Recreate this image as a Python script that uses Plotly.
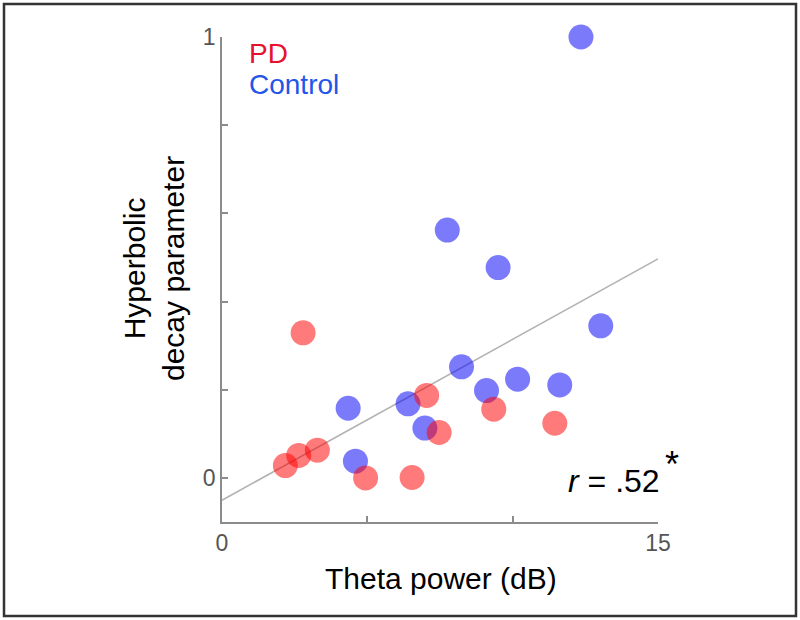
import numpy as np
import plotly.graph_objects as go

# theta power (dB) and hyperbolic decay parameter
pd_theta = [2.79, 7.04, 9.35, 11.45, 7.47, 3.28, 2.64, 2.18, 4.94, 6.54]
pd_decay = [0.329, 0.187, 0.156, 0.124, 0.103, 0.063, 0.051, 0.028, 0.0, 0.001]

ctrl_theta = [12.35, 7.75, 9.50, 13.03, 8.24, 10.17, 9.10, 11.62, 4.34, 6.40, 6.98, 4.59]
ctrl_decay = [1.0, 0.562, 0.477, 0.345, 0.252, 0.224, 0.198, 0.211, 0.158, 0.168, 0.113, 0.038]

x_ticks = [0, 5, 10, 15]
x_ticktext = ['0', '', '', '15']
y_ticks = [0, 0.2, 0.4, 0.6, 0.8, 1]
y_ticktext = ['0', '', '', '', '', '1']

FONT = 'Liberation Sans, Arial, sans-serif'
W, H = 800, 620
ML, MR, MT, MB = 222, 142, 37, 98

# least squares line over all subjects
all_x = np.array(pd_theta + ctrl_theta)
all_y = np.array(pd_decay + ctrl_decay)
slope, intercept = np.polyfit(all_x, all_y, 1)
fit_x = np.array([0, 15])
fit_y = intercept + slope * fit_x

fig = go.Figure()

fig.add_trace(go.Scatter(
    x=fit_x, y=fit_y, mode='lines',
    line=dict(color='#b3b3b3', width=1.6),
    showlegend=False, hoverinfo='skip', cliponaxis=False,
))

fig.add_trace(go.Scatter(
    x=ctrl_theta, y=ctrl_decay, mode='markers', name='Control',
    marker=dict(size=25, color='rgb(0,0,245)', opacity=0.52, line=dict(width=0)),
    showlegend=False, cliponaxis=False,
))
fig.add_trace(go.Scatter(
    x=pd_theta, y=pd_decay, mode='markers', name='PD',
    marker=dict(size=25, color='rgb(255,0,0)', opacity=0.52, line=dict(width=0)),
    showlegend=False, cliponaxis=False,
))

axis_common = dict(
    showline=True, linecolor='#8c8c8c', linewidth=1.5,
    ticks='inside', ticklen=6, tickwidth=1.5, tickcolor='#8c8c8c',
    showgrid=False, zeroline=False,
    tickfont=dict(family=FONT, size=23, color='#555555'),
)

fig.update_layout(
    width=W, height=H,
    margin=dict(l=ML, r=MR, t=MT, b=MB),
    paper_bgcolor='white', plot_bgcolor='white',
    xaxis=dict(range=[0, 15], tickvals=x_ticks, ticktext=x_ticktext, **axis_common),
    yaxis=dict(range=[-0.1, 1], tickvals=y_ticks, ticktext=y_ticktext, **axis_common),
    font=dict(family=FONT),
)

pw = W - ML - MR
ph = H - MT - MB

def px_x(p):
    return (p - ML) / pw

def px_y(p):
    return (H - MB - p) / ph

def label(text, x, y, size, color='black', xanchor='center', angle=0):
    fig.add_annotation(text=text, xref='paper', yref='paper',
                       x=px_x(x), y=px_y(y), xanchor=xanchor, yanchor='middle',
                       showarrow=False, textangle=angle,
                       font=dict(size=size, color=color))

# outer frame
fig.add_shape(type='rect', xref='paper', yref='paper',
              x0=px_x(4), x1=px_x(796), y0=px_y(616), y1=px_y(4),
              line=dict(color='#333333', width=2.5))

# axis titles
label('Theta power (dB)', 441, 578, 30)
label('Hyperbolic<br>decay parameter', 154, 269, 30, angle=-90)

# group labels
label('PD', 247, 53, 28, color='#e8112d', xanchor='left')
label('Control', 247, 84, 28, color='#2255e8', xanchor='left')

# correlation
label('<i>r</i> = .52', 662, 481, 32, xanchor='right')
label('*', 672, 464, 36)

fig.write_html("out.html", config={'displayModeBar': False},
               post_script="document.body.style.margin='0';")
